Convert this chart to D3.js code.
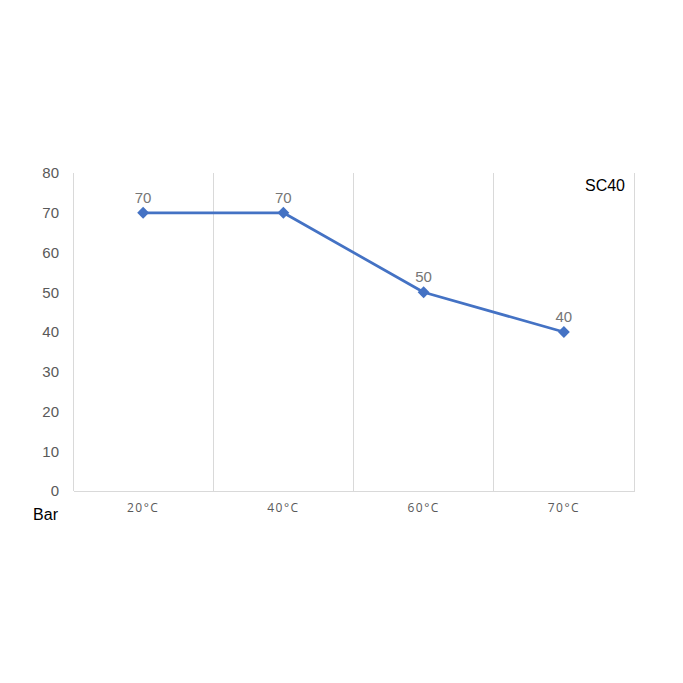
<!DOCTYPE html>
<html><head><meta charset="utf-8">
<script src="https://cdn.jsdelivr.net/npm/d3@7"></script>
<style>body{margin:0;background:#fff}svg{display:block}</style>
</head><body>
<script>
const categories = ["20°C", "40°C", "60°C", "70°C"];
const values = [70, 70, 50, 40];
const yTicks = [0, 10, 20, 30, 40, 50, 60, 70, 80];
const seriesName = "SC40";
const unitLabel = "Bar";

const W = 683, H = 683;
const m = {left: 73, right: 49, top: 173, bottom: 192};
const svg = d3.select("body").append("svg").attr("width", W).attr("height", H);
const x = d3.scaleBand().domain(categories).range([m.left, W - m.right]);
const y = d3.scaleLinear().domain([0, 80]).range([H - m.bottom, m.top]);
const font = "'Open Sans', 'Liberation Sans', 'DejaVu Sans', sans-serif";
const font2 = "'Liberation Sans', 'DejaVu Sans', sans-serif";

// vertical gridlines at category boundaries
const bounds = categories.map(c => x(c) + x.bandwidth());
svg.append("g").selectAll("line").data(bounds).join("line")
  .attr("x1", d => d).attr("x2", d => d)
  .attr("y1", y(80)).attr("y2", y(0))
  .attr("stroke", "#d9d9d9").attr("stroke-width", 1).attr("shape-rendering", "crispEdges");

// left axis line
svg.append("line").attr("x1", m.left).attr("x2", m.left).attr("y1", y(80)).attr("y2", y(0))
  .attr("stroke", "#d9d9d9").attr("shape-rendering", "crispEdges");
// bottom axis
const xAxis = svg.append("g").attr("transform", `translate(0,${y(0)})`)
  .call(d3.axisBottom(x).tickSize(0).tickPadding(12));
xAxis.select(".domain").attr("stroke", "#d9d9d9").attr("shape-rendering", "crispEdges");
xAxis.selectAll("text").attr("font-family", font).attr("font-size", 12)
  .attr("fill", "#595959").attr("letter-spacing", "1.5px");

// y axis
const yAxis = svg.append("g").attr("transform", `translate(${m.left},0)`)
  .call(d3.axisLeft(y).tickValues(yTicks).tickSize(0).tickPadding(14));
yAxis.select(".domain").remove();
yAxis.selectAll("text").attr("font-family", font2).attr("font-size", 15).attr("fill", "#595959");

// line
const line = d3.line().x((d, i) => x(categories[i]) + x.bandwidth() / 2).y(d => y(d));
svg.append("path").datum(values).attr("d", line)
  .attr("fill", "none").attr("stroke", "#4472c4").attr("stroke-width", 2.75).attr("stroke-linejoin", "round");

// markers
svg.append("g").selectAll("path").data(values).join("path")
  .attr("d", d3.symbol().type(d3.symbolDiamond2).size(90))
  .attr("transform", (d, i) => `translate(${x(categories[i]) + x.bandwidth() / 2},${y(d)})`)
  .attr("fill", "#4472c4");

// data labels
svg.append("g").selectAll("text").data(values).join("text")
  .attr("x", (d, i) => x(categories[i]) + x.bandwidth() / 2)
  .attr("y", d => y(d) - 10)
  .attr("text-anchor", "middle").attr("font-family", font2).attr("font-size", 15)
  .attr("fill", "#767676").text(d => d);

// series name
svg.append("text").attr("x", 625).attr("y", 191).attr("text-anchor", "end")
  .attr("font-family", font2).attr("font-size", 16).attr("fill", "#000").text(seriesName);

// unit label
svg.append("text").attr("x", 58).attr("y", 520).attr("text-anchor", "end")
  .attr("font-family", font2).attr("font-size", 16).attr("fill", "#000").text(unitLabel);
</script>
</body></html>
